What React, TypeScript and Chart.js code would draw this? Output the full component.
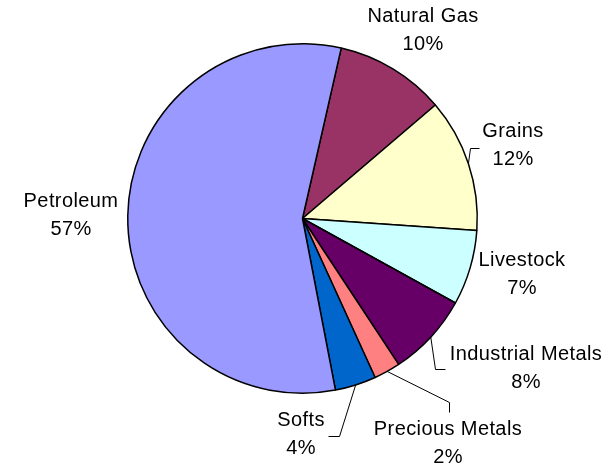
import React, { useEffect, useRef } from "react";
import { Chart, registerables } from "chart.js";

Chart.register(...registerables);

const categories = ["Natural Gas", "Grains", "Livestock", "Industrial Metals", "Precious Metals", "Softs", "Petroleum"];
const shares = [10.2, 12.34, 6.95, 7.7, 2.45, 3.8, 56.6];
const sliceColors = ["#993366", "#FFFFCC", "#CCFFFF", "#660066", "#FF8080", "#0066CC", "#9999FF"];

// label layout: center of first text line
const labelPos = [
  [423, 16],
  [513, 131],
  [522, 260],
  [526, 354],
  [448, 429],
  [301, 420],
  [71, 201],
];
// leader lines: null or list of points after the slice edge midpoint
const leaders: (number[][] | null)[] = [
  null,
  [[470, 148], [479, 148]],
  null,
  [[435, 369], [445, 369]],
  [[449, 402], [449, 412]],
  [[339, 436], [328, 436]],
  null,
];

const FONT = '20px "Liberation Sans", Arial, sans-serif';
const LINE_GAP = 28;

const labelPlugin = {
  id: "pieLabels",
  afterDraw(chart: any) {
    const ctx = chart.ctx;
    const meta = chart.getDatasetMeta(0);
    const data = chart.data.datasets[0].data as number[];
    const total = data.reduce((a, b) => a + b, 0);
    ctx.save();
    ctx.strokeStyle = "#000000";
    ctx.lineWidth = 1;
    meta.data.forEach((arc: any, i: number) => {
      const lp = leaders[i];
      if (lp) {
        const mid = (arc.startAngle + arc.endAngle) / 2;
        const ex = arc.x + Math.cos(mid) * arc.outerRadius;
        const ey = arc.y + Math.sin(mid) * arc.outerRadius;
        ctx.beginPath();
        ctx.moveTo(ex, ey);
        lp.forEach((p) => ctx.lineTo(p[0] + 0.5, p[1] + 0.5));
        ctx.stroke();
      }
    });
    ctx.fillStyle = "#000000";
    ctx.font = FONT;
    (ctx as any).letterSpacing = "0.4px";
    ctx.textAlign = "center";
    ctx.textBaseline = "middle";
    categories.forEach((name, i) => {
      const [x, y] = labelPos[i];
      const pct = Math.round((data[i] / total) * 100) + "%";
      ctx.fillText(name, x, y);
      ctx.fillText(pct, x, y + LINE_GAP);
    });
    ctx.restore();
  },
};

export default function App() {
  const ref = useRef<HTMLCanvasElement | null>(null);
  useEffect(() => {
    if (!ref.current) return;
    const chart = new Chart(ref.current, {
      type: "pie",
      data: {
        labels: categories,
        datasets: [
          {
            data: shares,
            backgroundColor: sliceColors,
            borderColor: "#000000",
            borderWidth: 1.5,
          },
        ],
      },
      options: {
        responsive: false,
        animation: false,
        rotation: 12.8,
        layout: { padding: { left: 127, right: 136, top: 43, bottom: 71 } },
        plugins: {
          legend: { display: false },
          tooltip: { enabled: false },
        },
      },
      plugins: [labelPlugin],
    });
    return () => chart.destroy();
  }, []);
  return (
    <div style={{ position: "fixed", left: 0, top: 0, width: 614, height: 465, background: "#ffffff" }}>
      <canvas ref={ref} width={614} height={465} />
    </div>
  );
}
